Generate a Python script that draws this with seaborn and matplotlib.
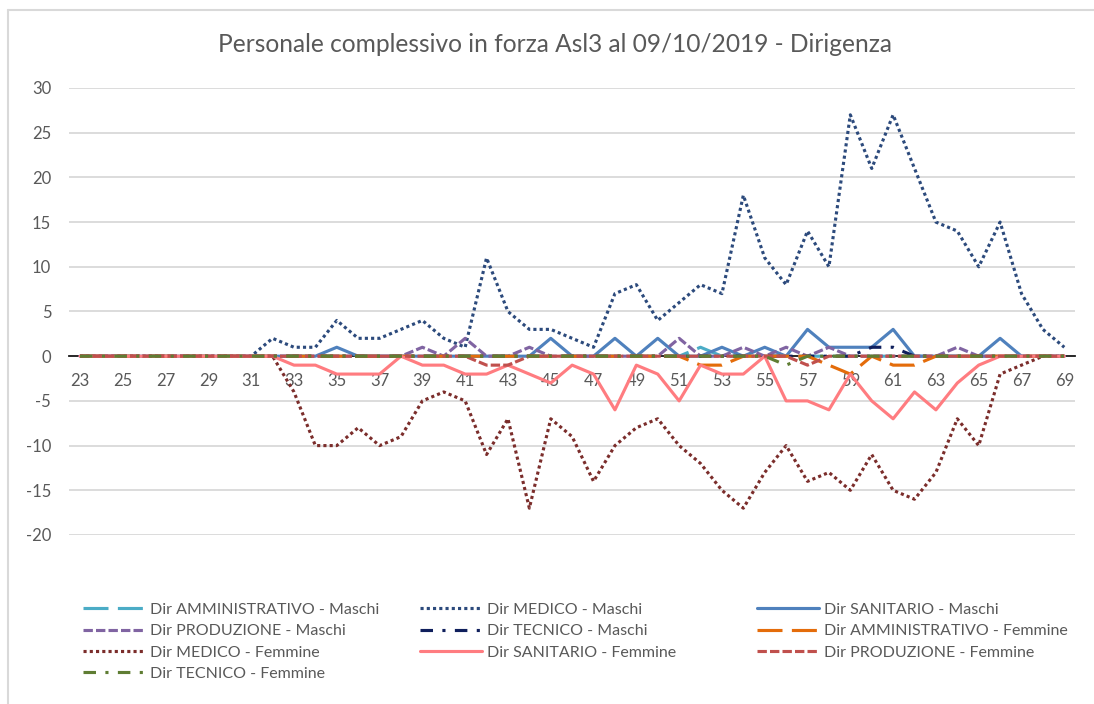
import matplotlib
matplotlib.use("Agg")
import matplotlib.pyplot as plt
import seaborn as sns
from matplotlib.lines import Line2D

# ---------------- data (ages 23..69) ----------------
ages = list(range(23, 70))

amm_m = [0, 0, 0, 0, 0, 0, 0, 0, 0, 0,
         0, 0, 0, 0, 0, 0, 0, 0, 0, 0,
         0, 0, 0, 0, 0, 0, 0, 0, 0, 1,
         0, 0, 0, 0, 0, 0, 0, 0, 0, 0,
         0, 0, 0, 0, 0, 0, 0]
medico_m = [0, 0, 0, 0, 0, 0, 0, 0, 0, 2,
            1, 1, 4, 2, 2, 3, 4, 2, 1, 11,
            5, 3, 3, 2, 1, 7, 8, 4, 6, 8,
            7, 18, 11, 8, 14, 10, 27, 21, 27, 21,
            15, 14, 10, 15, 7, 3, 1]
sanitario_m = [0, 0, 0, 0, 0, 0, 0, 0, 0, 0,
               0, 0, 1, 0, 0, 0, 0, 0, 0, 0,
               0, 0, 2, 0, 0, 2, 0, 2, 0, 0,
               1, 0, 1, 0, 3, 1, 1, 1, 3, 0,
               0, 0, 0, 2, 0, 0, 0]
produzione_m = [0, 0, 0, 0, 0, 0, 0, 0, 0, 0,
                0, 0, 0, 0, 0, 0, 1, 0, 2, 0,
                0, 1, 0, 0, 0, 0, 0, 0, 2, 0,
                0, 1, 0, 1, 0, 1, 0, 0, 0, 0,
                0, 1, 0, 0, 0, 0, 0]
tecnico_m = [0, 0, 0, 0, 0, 0, 0, 0, 0, 0,
             0, 0, 0, 0, 0, 0, 0, 0, 0, 0,
             0, 0, 0, 0, 0, 0, 0, 0, 0, 0,
             0, 0, 0, 0, 0, 0, 0, 1, 1, 0,
             0, 0, 0, 0, 0, 0, 0]
amm_f = [0, 0, 0, 0, 0, 0, 0, 0, 0, 0,
         0, 0, 0, 0, 0, 0, 0, 0, 0, 0,
         0, 0, 0, 0, 0, 0, 0, 0, 0, -1,
         -1, 0, 0, 0, 0, -1, -2, 0, -1, -1,
         0, 0, 0, 0, 0, 0, 0]
medico_f = [0, 0, 0, 0, 0, 0, 0, 0, 0, 0,
            -4, -10, -10, -8, -10, -9, -5, -4, -5, -11,
            -7, -17, -7, -9, -14, -10, -8, -7, -10, -12,
            -15, -17, -13, -10, -14, -13, -15, -11, -15, -16,
            -13, -7, -10, -2, -1, 0, 0]
sanitario_f = [0, 0, 0, 0, 0, 0, 0, 0, 0, 0,
               -1, -1, -2, -2, -2, 0, -1, -1, -2, -2,
               -1, -2, -3, -1, -2, -6, -1, -2, -5, -1,
               -2, -2, 0, -5, -5, -6, -2, -5, -7, -4,
               -6, -3, -1, 0, 0, 0, 0]
produzione_f = [0, 0, 0, 0, 0, 0, 0, 0, 0, 0,
                0, 0, 0, 0, 0, 0, 0, 0, 0, -1,
                -1, 0, 0, 0, 0, 0, 0, 0, 0, 0,
                0, 0, 0, 0, -1, 0, 0, 0, 0, 0,
                0, 0, 0, 0, 0, 0, 0]
tecnico_f = [0, 0, 0, 0, 0, 0, 0, 0, 0, 0,
             0, 0, 0, 0, 0, 0, 0, 0, 0, 0,
             0, 0, 0, 0, 0, 0, 0, 0, 0, 0,
             0, 0, 0, -1, 0, 0, 0, 0, 0, 0,
             0, 0, 0, 0, 0, 0, 0]

series_names = ["Dir AMMINISTRATIVO - Maschi", "Dir MEDICO - Maschi", "Dir SANITARIO - Maschi",
                "Dir PRODUZIONE - Maschi", "Dir TECNICO - Maschi", "Dir AMMINISTRATIVO - Femmine",
                "Dir MEDICO - Femmine", "Dir SANITARIO - Femmine", "Dir PRODUZIONE - Femmine",
                "Dir TECNICO - Femmine"]
series_values = [amm_m, medico_m, sanitario_m, produzione_m, tecnico_m,
                 amm_f, medico_f, sanitario_f, produzione_f, tecnico_f]
title_text = "Personale complessivo in forza Asl3 al 09/10/2019 - Dirigenza"
y_ticks = [-20, -15, -10, -5, 0, 5, 10, 15, 20, 25, 30]
x_ticks = list(range(23, 70, 2))

# ---------------- styles ----------------
colors = ["#4BACC6", "#2C4A7C", "#4F81BD", "#8064A2", "#0F1F5C",
          "#E46C0A", "#7B2D2B", "#FF7C80", "#C0504D", "#5F7D33"]
lgdash = (0, (8, 3))
dot = (0, (1, 1))
sysdash = (0, (3, 1))
dashdot = (0, (4, 3, 1, 3))
styles = [lgdash, dot, "-", sysdash, dashdot, lgdash, dot, "-", sysdash, dashdot]

sns.set_theme(style="white")
plt.rcParams["font.family"] = ["Lato", "DejaVu Sans"]
TXT = "#595959"

W, H = 1094, 704
fig = plt.figure(figsize=(W / 100, H / 100), dpi=100)
fig.patch.set_facecolor("white")

# axes placement in pixels
ax_left, ax_right, ax_top, ax_bottom = 69.3, 1075.0, 88.0, 535.0
ax = fig.add_axes([ax_left / W, 1 - ax_bottom / H, (ax_right - ax_left) / W, (ax_bottom - ax_top) / H])
ax.set_facecolor("white")

for name, vals, c, ls in zip(series_names, series_values, colors, styles):
    sns.lineplot(x=ages, y=vals, ax=ax, color=c, linestyle=ls, linewidth=2.25,
                 label=name, zorder=3, legend=False)
    ln = ax.get_lines()[-1]
    ln.set_dash_capstyle("butt")
    ln.set_solid_capstyle("round")
    ln.set_solid_joinstyle("round")
if ax.get_legend() is not None:
    ax.get_legend().remove()

ax.set_xlim(22.5, 69.5)
ax.set_ylim(-20, 30)
ax.set_yticks(y_ticks)
ax.set_xticks(x_ticks)
ax.set_xticklabels([str(v) for v in x_ticks])
ax.set_yticklabels([str(v) for v in y_ticks])
ax.grid(axis="y", color="#D9D9D9", linewidth=1.3)
ax.grid(axis="x", visible=False)
ax.set_axisbelow(True)
for s in ["left", "right", "top"]:
    ax.spines[s].set_visible(False)
ax.spines["bottom"].set_position(("data", 0))
ax.spines["bottom"].set_color("#1A1A1A")
ax.spines["bottom"].set_linewidth(1.3)
ax.spines["bottom"].set_zorder(2.5)
ax.tick_params(axis="both", length=0, colors=TXT, labelsize=12)
ax.tick_params(axis="y", pad=13)
ax.tick_params(axis="x", pad=12)
ax.set_xlabel("")
ax.set_ylabel("")

# title
title = fig.text(555 / W, 1 - 45 / H, title_text, ha="center", va="center",
                 fontsize=15, color=TXT)

# chart-area border
fig.add_artist(Line2D([8 / W, 8 / W], [0, 1 - 10 / H], transform=fig.transFigure, color="#D9D9D9", lw=1.5))
fig.add_artist(Line2D([8 / W, 1], [1 - 10 / H, 1 - 10 / H], transform=fig.transFigure, color="#D9D9D9", lw=1.5))

fig.canvas.draw()
r = fig.canvas.get_renderer()

# fit title width to the reference
tw = title.get_window_extent(r).width
title.set_fontsize(title.get_fontsize() * 676 / tw)

# legend font size fitted to reference text width
probe = fig.text(0, 0, series_names[0], fontsize=11)
pw = probe.get_window_extent(r).width
probe.remove()
leg_fs = 11 * 229 / pw

# legends: three columns (row-major order like Excel)
handles = ax.get_lines()[:10]
col_idx = [[0, 3, 6, 9], [1, 4, 7], [2, 5, 8]]
col_x = [83, 420, 757]
target_first = 610.0
target_pitch = 21.3


def build(spacing, top_px):
    out = []
    for ci, idxs in enumerate(col_idx):
        lg = fig.legend([handles[i] for i in idxs], [series_names[i] for i in idxs],
                        loc="upper left", bbox_to_anchor=(col_x[ci] / W, 1 - top_px / H),
                        frameon=False, fontsize=leg_fs, borderpad=0, borderaxespad=0,
                        handlelength=62 / (leg_fs * 100 / 72), handletextpad=0.3,
                        labelspacing=spacing, labelcolor=TXT)
        out.append(lg)
    return out


spacing0, top0 = 0.3, 600.0
legs = build(spacing0, top0)
fig.canvas.draw()
ts = legs[0].get_texts()
cy = [H - (t.get_window_extent(r).y0 + t.get_window_extent(r).y1) / 2 for t in ts]
pitch = (cy[-1] - cy[0]) / (len(cy) - 1)
fs_px = leg_fs * 100 / 72
spacing1 = spacing0 + (target_pitch - pitch) / fs_px
for lg in legs:
    lg.remove()
legs = build(spacing1, top0)
fig.canvas.draw()
ts = legs[0].get_texts()
cy0 = H - (ts[0].get_window_extent(r).y0 + ts[0].get_window_extent(r).y1) / 2
for lg in legs:
    lg.remove()
legs = build(spacing1, top0 + (target_first - cy0))

fig.savefig("out.png", dpi=100, facecolor="white")
